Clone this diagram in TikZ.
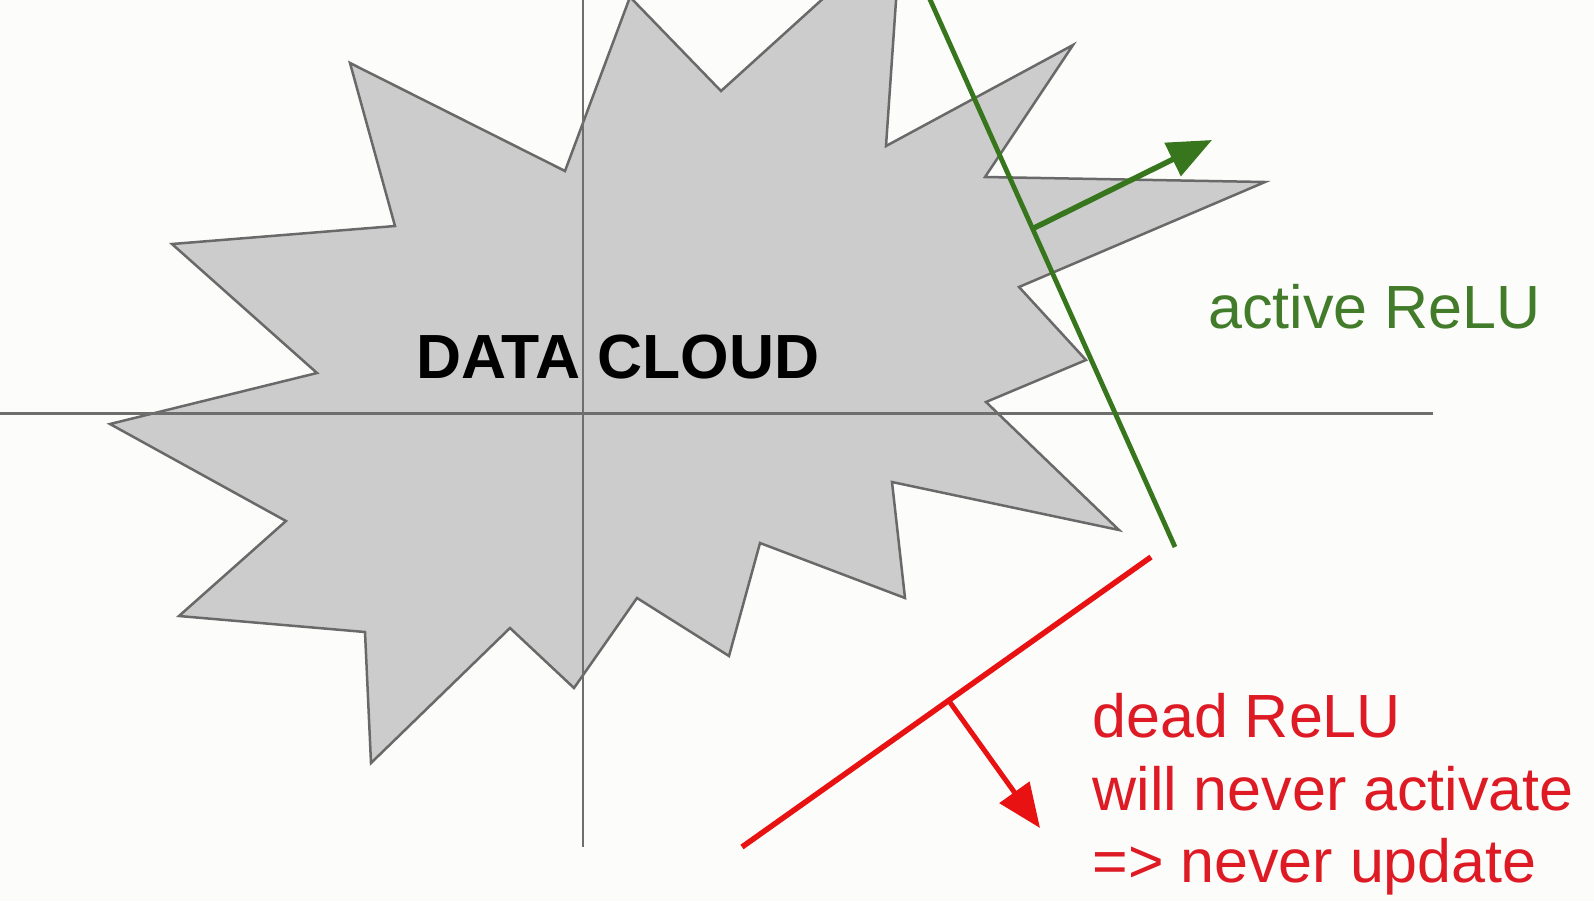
\documentclass[tikz,border=0pt]{standalone}
\usepackage{fontspec}
\setmainfont{Liberation Sans}
\usetikzlibrary{arrows.meta}
\definecolor{bgc}{RGB}{252,252,250}
\definecolor{cloudfill}{RGB}{204,204,204}
\definecolor{cloudline}{RGB}{105,105,105}
\definecolor{axisc}{RGB}{110,110,110}
\definecolor{relugreen}{RGB}{56,118,29}
\definecolor{relugreentext}{RGB}{66,124,42}
\definecolor{relured}{RGB}{232,18,18}
\definecolor{reluredtext}{RGB}{222,26,36}
\begin{document}
\begin{tikzpicture}[x=0.5pt,y=-0.5pt,
  cloudstyle/.style={fill=cloudfill, draw=cloudline, line width=1.25pt, line join=miter},
  axisline/.style={draw=axisc, line width=1.1pt},
  lbl/.style={inner sep=0pt, anchor=base west, font=\fontsize{30.5}{36}\selectfont},
  greenline/.style={draw=relugreen, line width=2.4pt},
  greenarrow/.style={draw=relugreen, fill=relugreen, line width=2.75pt, -{Triangle[length=22pt,width=18pt]}},
  redline/.style={draw=relured, line width=2.75pt},
  redarrow/.style={draw=relured, fill=relured, line width=2.5pt, -{Triangle[length=22pt,width=18pt]}}]
\fill[bgc] (0,0) rectangle (1594,901);
\useasboundingbox (0,0) rectangle (1594,901);
\clip (0,0) rectangle (1594,901);
% data cloud
\path[cloudstyle] (630,-3) -- (721,91) -- (901,-72) -- (886,146) -- (1073,45)
  -- (985,177) -- (1265,182) -- (1019,287) -- (1086,360) -- (986,402)
  -- (1119,530) -- (892,482) -- (905,598) -- (760,543) -- (729,656)
  -- (637,598) -- (574,688) -- (510,628) -- (371,763) -- (365,632)
  -- (179,616) -- (286,521) -- (110,424) -- (317,373) -- (172,244)
  -- (395,226) -- (350,63) -- (565,171) -- cycle;
% axes
\coordinate (hl) at (0,413.5);
\coordinate (hr) at (1433,413.5);
\coordinate (vt) at (583,0);
\coordinate (vb) at (583,847);
\draw[axisline] (hl) -- (hr);
\draw[axisline] (vt) -- (vb);
% label
\node[lbl, font=\fontsize{31.2}{36}\selectfont\bfseries] (dc) at (416,378) {DATA CLOUD};
% active ReLU
\coordinate (g1) at (928,-5);
\coordinate (g2) at (1175,547);
\coordinate (ga) at (1034,228);
\coordinate (gt) at (1212,140);
\draw[greenline] (g1) -- (g2);
\draw[greenarrow] (ga) -- (gt);
\node[lbl, text=relugreentext] (act) at (1208,328) {active ReLU};
% dead ReLU
\coordinate (r1) at (1151,557);
\coordinate (r2) at (742,847);
\coordinate (ra) at (949,701);
\coordinate (rt) at (1040,828);
\draw[redline] (r1) -- (r2);
\draw[redarrow] (ra) -- (rt);
\node[lbl, text=reluredtext] (d1) at (1092,737) {dead ReLU};
\node[lbl, text=reluredtext] (d2) at (1092,810) {will never activate};
\node[lbl, text=reluredtext] (d3) at (1092,882) {=> never update};
\end{tikzpicture}
\end{document}
